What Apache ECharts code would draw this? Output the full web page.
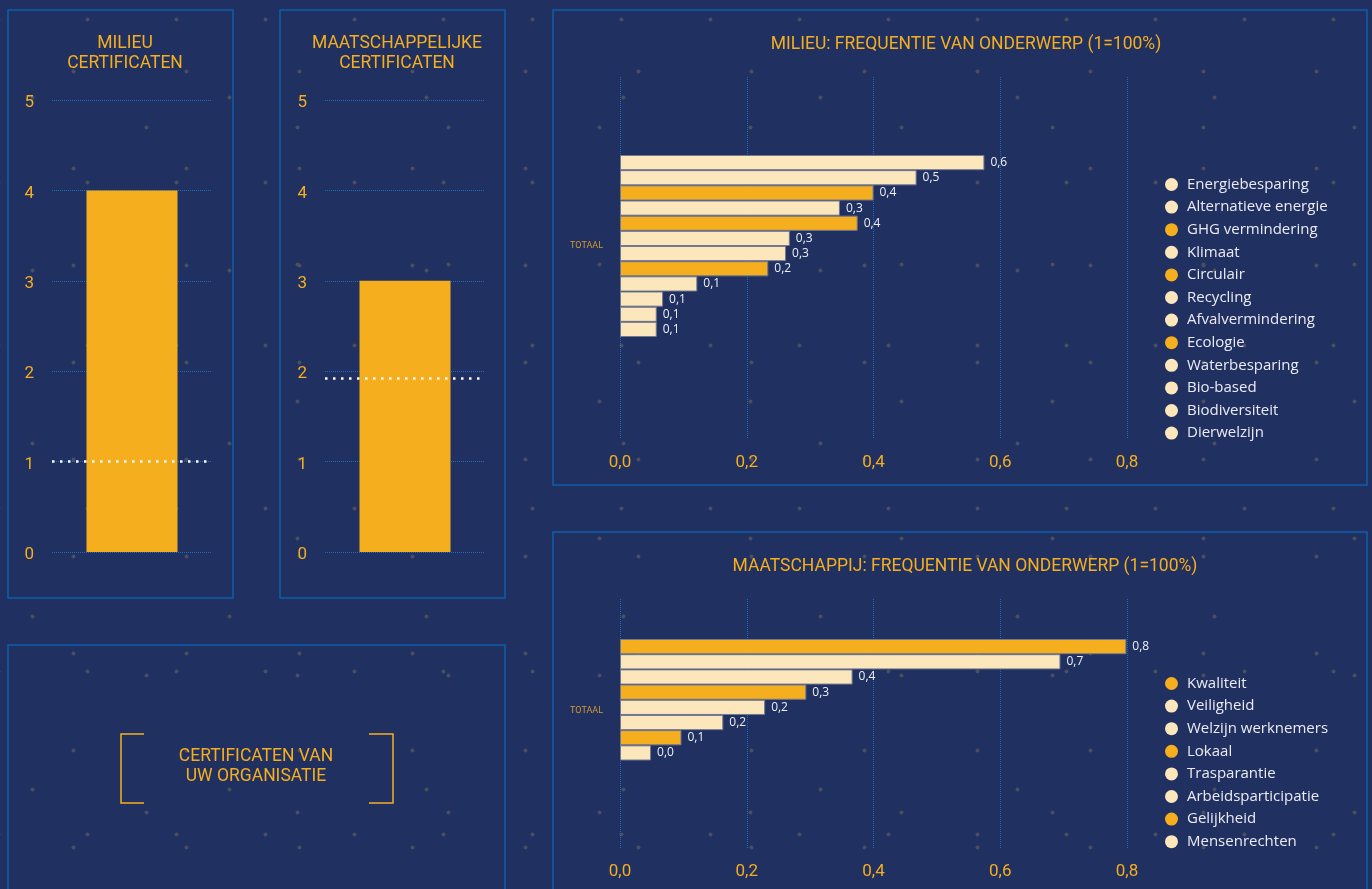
<!DOCTYPE html>
<html>
<head>
<meta charset="utf-8">
<script src="https://cdn.jsdelivr.net/npm/echarts/dist/echarts.min.js"></script>
<style>
  html, body { margin: 0; padding: 0; }
  body {
    width: 1372px; height: 889px; overflow: hidden;
    background-color: #203061;
    background-image:
      radial-gradient(circle, #4a4e5d 0, #4a4e5d 1.7px, rgba(32,48,97,0) 2.3px),
      radial-gradient(circle, #4a4e5d 0, #4a4e5d 1.7px, rgba(32,48,97,0) 2.3px),
      radial-gradient(circle, #4a4e5d 0, #4a4e5d 1.7px, rgba(32,48,97,0) 2.3px),
      radial-gradient(circle, #4a4e5d 0, #4a4e5d 1.7px, rgba(32,48,97,0) 2.3px);
    background-size: 113px 97px, 151px 137px, 197px 173px, 89px 163px;
    background-position: 17px 23px, 71px 59px, 131px 11px, 43px 101px;
  }
  #chart { width: 1372px; height: 889px; }
</style>
</head>
<body>
<div id="chart"></div>
<script>
// ---- data ----
const milieuCertCount = [4];
const milieuCertAvg = 1;
const maatschCertCount = [3];
const maatschCertAvg = 1.92;

const milieuTopics = ['Energiebesparing', 'Alternatieve energie', 'GHG vermindering', 'Klimaat', 'Circulair',
  'Recycling', 'Afvalvermindering', 'Ecologie', 'Waterbesparing', 'Bio-based', 'Biodiversiteit', 'Dierwelzijn'];
const milieuValues = [0.575, 0.468, 0.40, 0.347, 0.375, 0.268, 0.262, 0.234, 0.122, 0.068, 0.058, 0.058];
const milieuHighlight = [false, false, true, false, true, false, false, true, false, false, false, false];

const maatschTopics = ['Kwaliteit', 'Veiligheid', 'Welzijn werknemers', 'Lokaal', 'Trasparantie',
  'Arbeidsparticipatie', 'Gelijkheid', 'Mensenrechten'];
const maatschValues = [0.799, 0.695, 0.367, 0.294, 0.229, 0.163, 0.097, 0.049];
const maatschHighlight = [true, false, false, true, false, false, true, false];

const totalCategory = ['TOTAAL'];
const freqTicks = { min: 0, max: 0.8, interval: 0.2 };
const certTicks = { min: 0, max: 5, interval: 1 };

// ---- styles ----
const ORANGE = '#f5ae1e';
const CREAM = '#fce7bd';
const GRIDBLUE = '#1b6bc0';
const BORDER = '#0e5dab';
const TITLE_FONT = 'Roboto';
const fmt = v => v.toFixed(1).replace('.', ',');

const chart = echarts.init(document.getElementById('chart'));

const grids = [
  { left: 52, top: 100, width: 160, height: 452 },   // 0 milieu cert
  { left: 325, top: 100, width: 160, height: 452 },  // 1 maatsch cert
  { left: 620, top: 77, width: 507, height: 362 },   // 2 milieu freq split
  { left: 620, top: 155, width: 507, height: 182 },  // 3 milieu freq bars
  { left: 620, top: 599, width: 507, height: 249 },  // 4 maatsch freq split
  { left: 620, top: 639, width: 507, height: 121.5 } // 5 maatsch freq bars
].map(g => Object.assign({ containLabel: false, outerBoundsMode: 'none' }, g));

const certYAxis = gi => ({
  type: 'value', gridIndex: gi, min: certTicks.min, max: certTicks.max, interval: certTicks.interval,
  axisLine: { show: false }, axisTick: { show: false },
  axisLabel: { color: ORANGE, fontSize: 17, fontFamily: TITLE_FONT, margin: 18, verticalAlign: 'top', lineHeight: 6 },
  splitLine: { show: true, lineStyle: { color: GRIDBLUE, type: 'dotted', width: 1 } }
});
const certXAxis = (gi, name) => ({
  type: 'category', gridIndex: gi, data: [name], show: false
});
const freqXAxis = (gi, visible) => ({
  type: 'value', gridIndex: gi, min: freqTicks.min, max: freqTicks.max, interval: freqTicks.interval,
  axisLine: { show: false }, axisTick: { show: false },
  axisLabel: { show: visible, color: ORANGE, fontSize: 17, fontFamily: TITLE_FONT, margin: 15, formatter: fmt },
  splitLine: { show: visible, lineStyle: { color: GRIDBLUE, type: 'dotted', width: 1 } }
});

const xAxes = [
  certXAxis(0, 'Milieu'), certXAxis(1, 'Maatschappelijk'),
  freqXAxis(2, true), freqXAxis(3, false), freqXAxis(4, true), freqXAxis(5, false)
];
const yAxes = [
  certYAxis(0), certYAxis(1),
  { type: 'category', gridIndex: 2, data: totalCategory, show: false },
  { type: 'category', gridIndex: 3, data: totalCategory, inverse: true,
    axisLine: { show: false }, axisTick: { show: false },
    axisLabel: { color: '#d29a2c', fontSize: 9, fontFamily: TITLE_FONT, margin: 17 } },
  { type: 'category', gridIndex: 4, data: totalCategory, show: false },
  { type: 'category', gridIndex: 5, data: totalCategory, inverse: true,
    axisLine: { show: false }, axisTick: { show: false },
    axisLabel: { color: '#d29a2c', fontSize: 9, fontFamily: TITLE_FONT, margin: 17, verticalAlign: 'top', lineHeight: 22 } }
];

const certSeries = (idx, name, data, avg) => ({
  type: 'bar', name: name, xAxisIndex: idx, yAxisIndex: idx, data: data, barWidth: 91,
  itemStyle: { color: ORANGE }, silent: true,
  markLine: {
    silent: true, symbol: 'none', label: { show: false },
    lineStyle: { color: '#ffffff', type: [2.5, 5.5], width: 2.5, opacity: 1 },
    data: [{ yAxis: avg }]
  }
});

const freqSeries = (axisIdx, names, values, highlight) => names.map((n, i) => ({
  type: 'bar', name: n, xAxisIndex: axisIdx, yAxisIndex: axisIdx,
  data: [values[i]], barGap: '0%', barCategoryGap: '0%',
  itemStyle: { color: highlight[i] ? ORANGE : CREAM, borderColor: '#737a90', borderWidth: 1 },
  label: { show: true, position: 'right', distance: 6, color: '#eef0f6', fontSize: 12,
    fontFamily: 'Open Sans', formatter: p => fmt(p.value) },
  silent: true
}));

const legendBase = {
  orient: 'vertical', left: 1160, icon: 'circle', itemWidth: 13, itemHeight: 13, itemGap: 7.6,
  itemStyle: { borderWidth: 0 }, selectedMode: false,
  textStyle: { color: '#ecebf4', fontSize: 15, fontFamily: 'Open Sans', lineHeight: 13, padding: [0, 0, 0, 4] }
};

const titleStyle = lh => ({ color: ORANGE, fontSize: 17.5, fontWeight: 'normal', fontFamily: TITLE_FONT, lineHeight: lh });

const option = {
  backgroundColor: 'transparent',
  animation: false,
  title: [
    { text: 'MILIEU\nCERTIFICATEN', left: 120, top: 29, textAlign: 'center', textStyle: titleStyle(20) },
    { text: 'MAATSCHAPPELIJKE\nCERTIFICATEN', left: 392, top: 29, textAlign: 'center', textStyle: titleStyle(20) },
    { text: 'MILIEU: FREQUENTIE VAN ONDERWERP (1=100%)', left: 961, top: 30, textAlign: 'center', textStyle: titleStyle(20) },
    { text: 'MAATSCHAPPIJ: FREQUENTIE VAN ONDERWERP (1=100%)', left: 960, top: 552, textAlign: 'center', textStyle: titleStyle(20) }
  ],
  grid: grids,
  xAxis: xAxes,
  yAxis: yAxes,
  legend: [
    Object.assign({}, legendBase, { top: 172, data: milieuTopics }),
    Object.assign({}, legendBase, { top: 671, data: maatschTopics })
  ],
  graphic: [
    { type: 'rect', shape: { x: 8, y: 10, width: 225, height: 588 }, style: { fill: 'none', stroke: BORDER, lineWidth: 1.5 }, silent: true },
    { type: 'rect', shape: { x: 280, y: 10, width: 225, height: 588 }, style: { fill: 'none', stroke: BORDER, lineWidth: 1.5 }, silent: true },
    { type: 'rect', shape: { x: 8, y: 645, width: 497, height: 300 }, style: { fill: 'none', stroke: BORDER, lineWidth: 1.5 }, silent: true },
    { type: 'rect', shape: { x: 553, y: 10, width: 814, height: 475 }, style: { fill: 'none', stroke: BORDER, lineWidth: 1.5 }, silent: true },
    { type: 'rect', shape: { x: 553, y: 532, width: 814, height: 400 }, style: { fill: 'none', stroke: BORDER, lineWidth: 1.5 }, silent: true },
    { type: 'polyline', shape: { points: [[144, 734], [121, 734], [121, 803], [144, 803]] }, style: { fill: 'none', stroke: ORANGE, lineWidth: 1.5 }, silent: true },
    { type: 'polyline', shape: { points: [[369, 734], [393, 734], [393, 803], [369, 803]] }, style: { fill: 'none', stroke: ORANGE, lineWidth: 1.5 }, silent: true },
    { type: 'text', x: 256, y: 767, silent: true,
      style: { text: 'CERTIFICATEN VAN\nUW ORGANISATIE', fill: ORANGE, font: '17.5px Roboto', lineHeight: 20, align: 'center', verticalAlign: 'middle' } }
  ],
  series: [
    certSeries(0, 'Milieu certificaten', milieuCertCount, milieuCertAvg),
    certSeries(1, 'Maatschappelijke certificaten', maatschCertCount, maatschCertAvg),
    ...freqSeries(3, milieuTopics, milieuValues, milieuHighlight),
    ...freqSeries(5, maatschTopics, maatschValues, maatschHighlight)
  ]
};
chart.setOption(option);
</script>
</body>
</html>
